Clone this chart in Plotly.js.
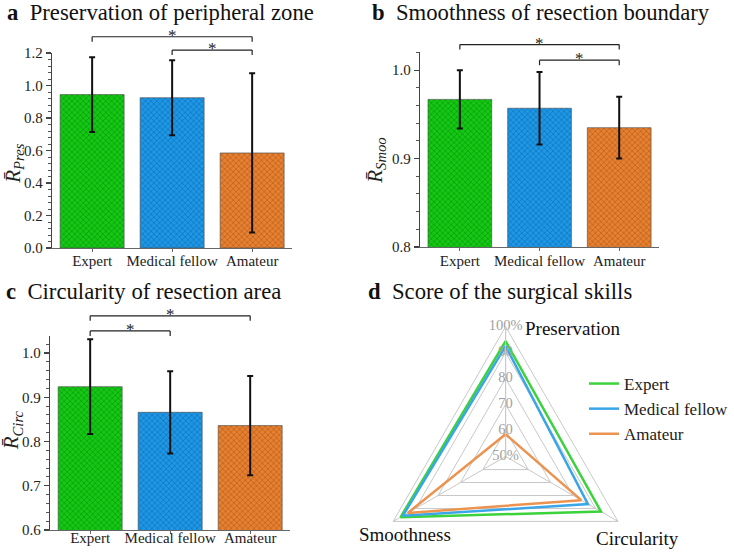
<!DOCTYPE html>
<html><head><meta charset="utf-8">
<script src="https://cdn.plot.ly/plotly-3.0.1.min.js"></script>
<style>html,body{margin:0;padding:0;overflow:hidden;background:#fff}#chart{width:734px;height:600px}</style>
</head><body><div id="chart"></div><script>
// ---------------- data ----------------
const groups = ['Expert', 'Medical fellow', 'Amateur'];
const presMean = [0.944, 0.925, 0.585];
const presErr  = [0.230, 0.231, 0.490];
const smooMean = [0.967, 0.957, 0.935];
const smooErr  = [0.033, 0.041, 0.035];
const circMean = [0.924, 0.866, 0.836];
const circErr  = [0.107, 0.093, 0.112];
const sigPres = [[0, 2], [1, 2]];
const sigSmoo = [[0, 2], [1, 2]];
const sigCirc = [[0, 2], [0, 1]];
const radarAxes = ['Preservation', 'Circularity', 'Smoothness'];
const radarExpert  = [94.4, 92.4, 96.7];
const radarMedical = [92.5, 86.6, 95.7];
const radarAmateur = [58.5, 83.6, 93.5];
const radarTickVals = [50, 60, 70, 80, 90, 100];
const radarTickText = ['50%', '60', '70', '80', '90', '100%'];
const panelTitles = ['Preservation of peripheral zone', 'Smoothness of resection boundary', 'Circularity of resection area', 'Score of the surgical skills'];
const panelLetters = ['a', 'b', 'c', 'd'];

// ---------------- layout helpers ----------------
const W = 734, H = 600;
const FONT = '"Liberation Serif", "Times New Roman", serif';
const fx = p => p / W;
const fy = p => 1 - p / H;
const barColors = ['#14c814', '#1c98e6', '#e7802f'];
const hatchColors = ['#005000', '#0a3570', '#6a2e08'];
const lineColors = ['#3cd23c', '#3aa6e8', '#ec9350'];

const panels = [
  {mean: presMean, err: presErr, sig: sigPres, levels: [1.300, 1.218], range: [0, 1.2], dtick: 0.2, minor: 0.04, px: [53, 297], py: [53, 248], standoff: -4, tpos: [14, 164], title: '<i>R̄</i><sub><i>Pres</i></sub>'},
  {mean: smooMean, err: smooErr, sig: sigSmoo, levels: [1.029, 1.0113], range: [0.8, 1.0206], dtick: 0.1, minor: 0.02, px: [427, 670], py: [52, 247], standoff: -3, tpos: [382, 161], title: '<i>R̄</i><sub><i>Smoo</i></sub>'},
  {mean: circMean, err: circErr, sig: sigCirc, levels: [1.084, 1.050], range: [0.6, 1.0385], dtick: 0.1, minor: 0.02, px: [51, 295], py: [336, 530], standoff: -9, tpos: [12.5, 430], title: '<i>R̄</i><sub><i>Circ</i></sub>'}
];

const traces = [];
const layout = {
  width: W, height: H,
  margin: {l: 0, r: 0, t: 0, b: 0},
  paper_bgcolor: '#fff', plot_bgcolor: 'rgba(0,0,0,0)',
  font: {family: FONT, color: '#222'},
  showlegend: true,
  barmode: 'overlay',
  bargap: 0.2,
  shapes: [], annotations: []
};

panels.forEach((p, k) => {
  const sfx = k === 0 ? '' : String(k + 1);
  groups.forEach((g, j) => {
    traces.push({
      type: 'bar', x: [g], y: [p.mean[j]],
      xaxis: 'x' + sfx, yaxis: 'y' + sfx,
      showlegend: false, opacity: 1,
      marker: {color: barColors[j], line: {color: 'rgba(70,70,70,0.75)', width: 0.8},
        pattern: {shape: 'x', size: 4, solidity: 0.22, fillmode: 'overlay', fgcolor: hatchColors[j], fgopacity: 0.6}},
      error_y: {type: 'data', array: [p.err[j]], visible: true, color: '#111', thickness: 2, width: 3}
    });
  });
  layout['xaxis' + sfx] = {
    domain: [fx(p.px[0]), fx(p.px[1])], anchor: 'y' + sfx,
    type: 'category', categoryorder: 'array', categoryarray: groups,
    showline: true, linecolor: '#666', linewidth: 1.3,
    ticks: 'outside', ticklen: 3, tickcolor: '#666', tickwidth: 1, ticklabelstandoff: p.standoff,
    tickfont: {family: FONT, size: 15, color: '#222'}, showgrid: false, zeroline: false,
    fixedrange: true
  };
  layout['yaxis' + sfx] = {
    domain: [fy(p.py[1]), fy(p.py[0])], anchor: 'x' + sfx,
    range: p.range, dtick: p.dtick, tick0: 0, tickformat: '.1f',
    showline: true, linecolor: '#444', linewidth: 1.3,
    ticks: 'outside', ticklen: 5, tickcolor: '#444', tickwidth: 1.2,
    minor: {dtick: p.minor, ticks: 'outside', ticklen: 3, tickcolor: '#555', tickwidth: 1, showgrid: false},
    tickfont: {family: FONT, size: 15, color: '#222'}, showgrid: false, zeroline: false,
    fixedrange: true
  };
  // axis title (rotated)
  layout.annotations.push({xref: 'paper', yref: 'paper', x: fx(p.tpos[0]), y: fy(p.tpos[1]),
    xanchor: 'center', yanchor: 'middle', textangle: -90, showarrow: false, text: p.title,
    font: {family: FONT, size: 21, color: '#222'}});
  const span = p.range[1] - p.range[0];
  const hpx = p.py[1] - p.py[0];
  const drop = 5 / hpx;
  p.sig.forEach((pair, i) => {
    const d = (p.levels[i] - p.range[0]) / span;
    const ln = {color: '#222', width: 1.2};
    const base = {type: 'line', xref: 'x' + sfx, yref: 'y' + sfx + ' domain', line: ln};
    layout.shapes.push(Object.assign({}, base, {x0: pair[0], x1: pair[1], y0: d, y1: d}));
    layout.shapes.push(Object.assign({}, base, {x0: pair[0], x1: pair[0], y0: d, y1: d - drop}));
    layout.shapes.push(Object.assign({}, base, {x0: pair[1], x1: pair[1], y0: d, y1: d - drop}));
    layout.annotations.push({xref: 'x' + sfx, yref: 'y' + sfx + ' domain', x: (pair[0] + pair[1]) / 2, y: d,
      text: '*', showarrow: false, yanchor: 'middle', yshift: 2, height: 14, valign: 'middle',
      font: {family: FONT, size: 17, color: '#222'}});
  });
});

// panel titles
const titlePos = [[5, 12.5], [376, 12.5], [4, 291], [372, 291]];
panelTitles.forEach((t, i) => {
  layout.annotations.push({xref: 'paper', yref: 'paper', x: fx(titlePos[i][0]), y: fy(titlePos[i][1]),
    xanchor: 'left', yanchor: 'middle', showarrow: false,
    text: '<b>' + panelLetters[i] + '</b>&nbsp; ' + t, font: {family: FONT, size: 22.7, color: '#111'}});
});

// radar
const radarSeries = [[groups[0], radarExpert], [groups[1], radarMedical], [groups[2], radarAmateur]];
radarSeries.forEach((s, i) => {
  traces.push({type: 'scatterpolar', subplot: 'polar', mode: 'lines', name: s[0],
    r: s[1].concat([s[1][0]]), theta: radarAxes.concat([radarAxes[0]]),
    line: {color: lineColors[i], width: 2.5}});
});
// radial tick labels, drawn on the Preservation spoke
traces.push({type: 'scatterpolar', subplot: 'polar', mode: 'text', showlegend: false,
  r: radarTickVals, theta: radarTickVals.map(() => radarAxes[0]), text: radarTickText,
  textposition: 'middle center', cliponaxis: false,
  textfont: {family: FONT, size: 14.5, color: '#a0a0a0'}});
const cx = 514, cy = 456.5, R = 132;
layout.polar = {
  domain: {x: [fx(cx - R), fx(cx + R)], y: [fy(cy + R), fy(cy - R)]},
  gridshape: 'linear', bgcolor: 'rgba(0,0,0,0)',
  radialaxis: {range: [49.9, 100], tickvals: radarTickVals, angle: 90, showticklabels: false,
    showline: true, linecolor: '#c8c8c8', linewidth: 1, gridcolor: '#c8c8c8', gridwidth: 1, ticks: ''},
  angularaxis: {type: 'category', categoryarray: radarAxes, rotation: 90, direction: 'clockwise',
    showticklabels: false, ticks: '', showline: true, linecolor: '#c8c8c8', linewidth: 1,
    gridcolor: '#c8c8c8', gridwidth: 1}
};
const axisLabelPos = [[532, 328, 'left'], [604, 538, 'left'], [461, 534, 'right']];
radarAxes.forEach((a, i) => {
  layout.annotations.push({xref: 'paper', yref: 'paper', x: fx(axisLabelPos[i][0]), y: fy(axisLabelPos[i][1]),
    xanchor: axisLabelPos[i][2], yanchor: 'middle', showarrow: false, text: a,
    font: {family: FONT, size: 19, color: '#111'}});
});
layout.legend = {x: fx(594), y: fy(366), xanchor: 'left', yanchor: 'top', bgcolor: 'rgba(0,0,0,0)',
  font: {family: FONT, size: 17, color: '#222'}, tracegroupgap: 0, itemwidth: 30};

Plotly.newPlot('chart', traces, layout, {staticPlot: true, displayModeBar: false});
</script></body></html>
